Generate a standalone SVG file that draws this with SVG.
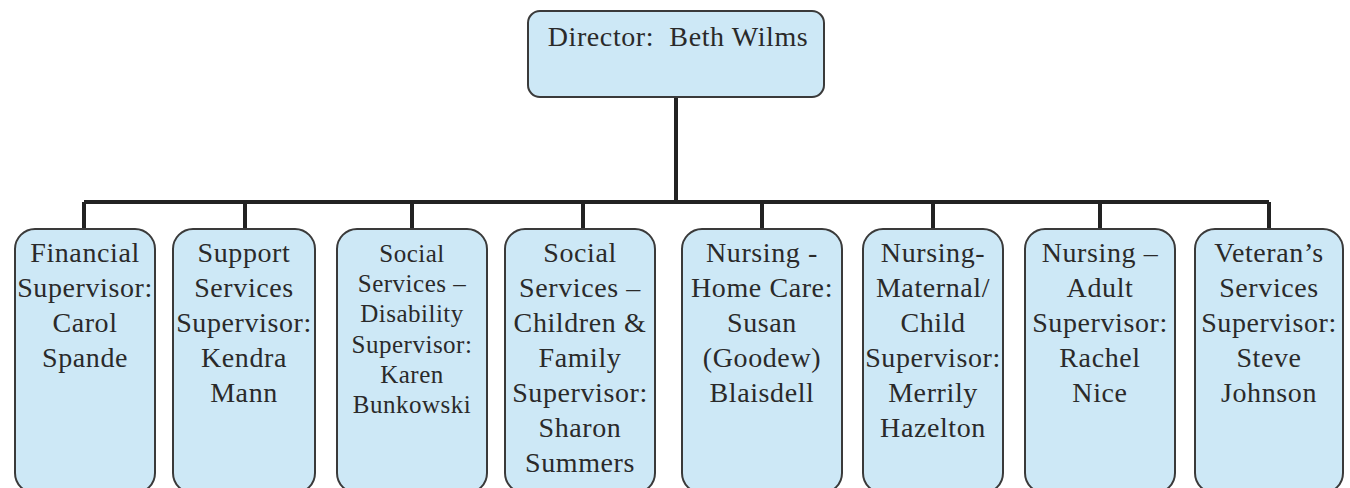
<svg xmlns="http://www.w3.org/2000/svg" width="1350" height="488" viewBox="0 0 1350 488">
<style>
.box{fill:#cde8f6;stroke:#3a3a3a;stroke-width:2}
.t{font-family:"Liberation Serif","Times New Roman",serif;font-size:28px;letter-spacing:0.6px;fill:#2a2a2a;text-anchor:middle}
.s{font-size:25px;letter-spacing:0.5px}
.c{stroke:#222;stroke-width:4;fill:none}
</style>
<rect width="1350" height="488" fill="#ffffff"/>
<g id="connectors">
<path class="c" d="M676 97 V202 M84 202 H1269 M84 202 V229 M245 202 V229 M412 202 V229 M583 202 V229 M762 202 V229 M933 202 V229 M1100 202 V229 M1269 202 V229"/>
</g>
<g id="director">
<rect class="box" x="528" y="11" width="296" height="86" rx="12"/>
<text class="t" x="678" y="46" xml:space="preserve">Director:  Beth Wilms</text>
</g>
<g id="financial">
<rect class="box" x="15" y="229" width="140" height="264" rx="20"/>
<text class="t"><tspan x="85" y="262">Financial</tspan><tspan x="85" y="297">Supervisor:</tspan><tspan x="85" y="332">Carol</tspan><tspan x="85" y="367">Spande</tspan></text>
</g>
<g id="support">
<rect class="box" x="173" y="229" width="142" height="264" rx="20"/>
<text class="t"><tspan x="244" y="262">Support</tspan><tspan x="244" y="297">Services</tspan><tspan x="244" y="332">Supervisor:</tspan><tspan x="244" y="367">Kendra</tspan><tspan x="244" y="402">Mann</tspan></text>
</g>
<g id="social-disability">
<rect class="box" x="337" y="229" width="150" height="264" rx="20"/>
<text class="t s"><tspan x="412" y="262">Social</tspan><tspan x="412" y="292">Services –</tspan><tspan x="412" y="322">Disability</tspan><tspan x="412" y="353">Supervisor:</tspan><tspan x="412" y="383">Karen</tspan><tspan x="412" y="413">Bunkowski</tspan></text>
</g>
<g id="social-children">
<rect class="box" x="505" y="229" width="150" height="264" rx="20"/>
<text class="t"><tspan x="580" y="262">Social</tspan><tspan x="580" y="297">Services –</tspan><tspan x="580" y="332">Children &amp;</tspan><tspan x="580" y="367">Family</tspan><tspan x="580" y="402">Supervisor:</tspan><tspan x="580" y="437">Sharon</tspan><tspan x="580" y="472">Summers</tspan></text>
</g>
<g id="nursing-home">
<rect class="box" x="682" y="229" width="160" height="264" rx="20"/>
<text class="t"><tspan x="762" y="262">Nursing -</tspan><tspan x="762" y="297">Home Care:</tspan><tspan x="762" y="332">Susan</tspan><tspan x="762" y="367">(Goodew)</tspan><tspan x="762" y="402">Blaisdell</tspan></text>
</g>
<g id="nursing-maternal">
<rect class="box" x="863" y="229" width="140" height="264" rx="20"/>
<text class="t"><tspan x="933" y="262">Nursing-</tspan><tspan x="933" y="297">Maternal/</tspan><tspan x="933" y="332">Child</tspan><tspan x="933" y="367">Supervisor:</tspan><tspan x="933" y="402">Merrily</tspan><tspan x="933" y="437">Hazelton</tspan></text>
</g>
<g id="nursing-adult">
<rect class="box" x="1025" y="229" width="150" height="264" rx="20"/>
<text class="t"><tspan x="1100" y="262">Nursing –</tspan><tspan x="1100" y="297">Adult</tspan><tspan x="1100" y="332">Supervisor:</tspan><tspan x="1100" y="367">Rachel</tspan><tspan x="1100" y="402">Nice</tspan></text>
</g>
<g id="veterans">
<rect class="box" x="1195" y="229" width="148" height="264" rx="20"/>
<text class="t"><tspan x="1269" y="262">Veteran’s</tspan><tspan x="1269" y="297">Services</tspan><tspan x="1269" y="332">Supervisor:</tspan><tspan x="1269" y="367">Steve</tspan><tspan x="1269" y="402">Johnson</tspan></text>
</g>
</svg>
